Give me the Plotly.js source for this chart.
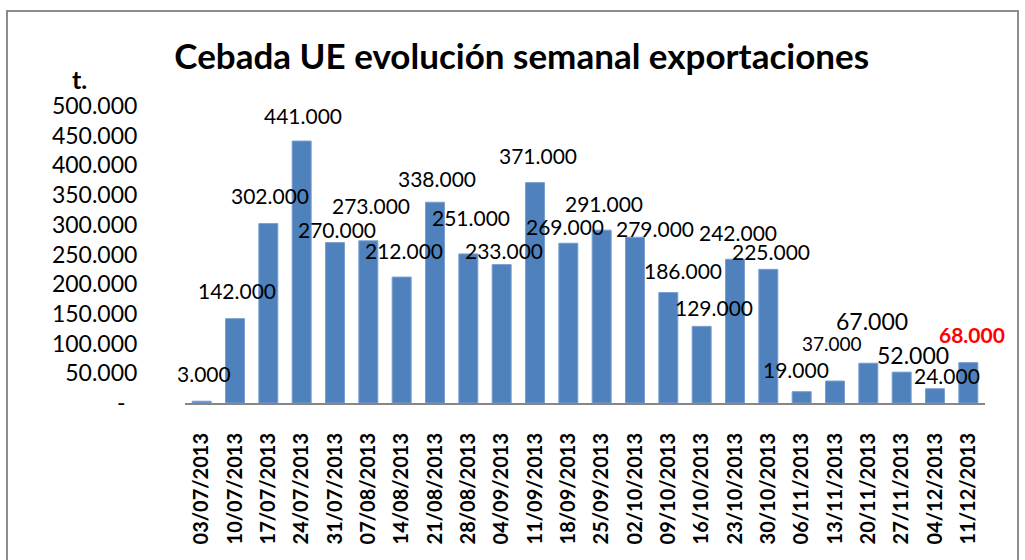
<!DOCTYPE html>
<html>
<head>
<meta charset="utf-8">
<script src="https://cdn.plot.ly/plotly-3.0.1.min.js"></script>
<style>
html,body{margin:0;padding:0;background:#fff;}
#chart{width:1025px;height:560px;}
</style>
</head>
<body>
<div id="chart"></div>
<script>
// ---- data ----
const categories = ["03/07/2013","10/07/2013","17/07/2013","24/07/2013","31/07/2013","07/08/2013","14/08/2013","21/08/2013","28/08/2013","04/09/2013","11/09/2013","18/09/2013","25/09/2013","02/10/2013","09/10/2013","16/10/2013","23/10/2013","30/10/2013","06/11/2013","13/11/2013","20/11/2013","27/11/2013","04/12/2013","11/12/2013"];
const values = [3000,142000,302000,441000,270000,273000,212000,338000,251000,233000,371000,269000,291000,279000,186000,129000,242000,225000,19000,37000,67000,52000,24000,68000];
const yTickVals = [0,50000,100000,150000,200000,250000,300000,350000,400000,450000,500000];
const yTickText = ["-\u00a0\u00a0","50.000","100.000","150.000","200.000","250.000","300.000","350.000","400.000","450.000","500.000"];
const titleText = "Cebada UE evolución semanal exportaciones";
const unitText = "t.";

// ---- label placement (pixel offsets from bar top, as placed in the original) ----
const labelDx = [2,2,2,1,2,3,2,2,3,2,3,-3,2,20,15,12,3,3,-6,-3,4,11,12,4];
const labelDy = [28,28,28,26,13,35,27,24,36,14,27,17,27,9,22,19,27,18,22,38,42,17,13,28];
const labelSize = [21,21,21,21,21,21,21,21,21,21,21,21,21,21,21,21,21,21,21,19,23,23,21,21];

function fmt(v){
  return String(v).replace(/\B(?=(\d{3})+(?!\d))/g, ".");
}

const FONT = "Lato, 'Open Sans', sans-serif";

const trace = {
  type: "bar",
  x: categories,
  y: values,
  marker: {color: "#4F81BD", line: {color: "#7A9FD0", width: 1}},
  hoverinfo: "x+y"
};

const annotations = values.map((v, i) => {
  const last = i === values.length - 1;
  return {
    x: categories[i], y: v, xref: "x", yref: "y",
    text: last ? "<b>" + fmt(v) + "</b>" : fmt(v),
    showarrow: false, xanchor: "center", yanchor: "middle",
    xshift: labelDx[i], yshift: labelDy[i], borderpad: 0,
    font: {family: FONT, size: labelSize[i], color: last ? "#FF0000" : "#000000"}
  };
});

annotations.push({
  xref: "paper", yref: "paper", x: -0.14375, y: 1.09,
  xanchor: "left", yanchor: "middle", showarrow: false,
  text: "<b>" + unitText + "</b>",
  font: {family: FONT, size: 25, color: "#000"}
});

const layout = {
  width: 1025, height: 560,
  margin: {l: 185, r: 40, t: 106, b: 157},
  paper_bgcolor: "#ffffff", plot_bgcolor: "#ffffff",
  showlegend: false,
  bargap: 0.43,
  title: {
    text: "<b>" + titleText + "</b>",
    xref: "container", yref: "container",
    x: 0.509, y: 0.898, xanchor: "center", yanchor: "middle",
    font: {family: FONT, size: 35, color: "#000"}
  },
  xaxis: {
    type: "category",
    range: [-0.5, categories.length - 0.5],
    autorange: false,
    tickangle: -90,
    ticks: "outside", ticklen: 20, tickcolor: "rgba(0,0,0,0)",
    showline: true, linecolor: "#868686", linewidth: 2,
    showgrid: false, zeroline: false,
    tickfont: {family: FONT, size: 20, color: "#000", weight: "bold"}
  },
  yaxis: {
    range: [0, 500000],
    autorange: false,
    tickvals: yTickVals, ticktext: yTickText,
    ticks: "outside", ticklen: 42, tickcolor: "rgba(0,0,0,0)",
    showline: false, showgrid: false, zeroline: false,
    tickfont: {family: FONT, size: 23, color: "#000"}
  },
  annotations: annotations,
  shapes: [{
    type: "rect", xref: "paper", yref: "paper",
    x0: -0.2225, x1: 1.04125, y0: -0.6, y1: 1.3199,
    line: {color: "#8C8C8C", width: 2}, fillcolor: "rgba(0,0,0,0)", layer: "below"
  }]
};

Plotly.newPlot("chart", [trace], layout, {staticPlot: true, displayModeBar: false});
</script>
</body>
</html>
